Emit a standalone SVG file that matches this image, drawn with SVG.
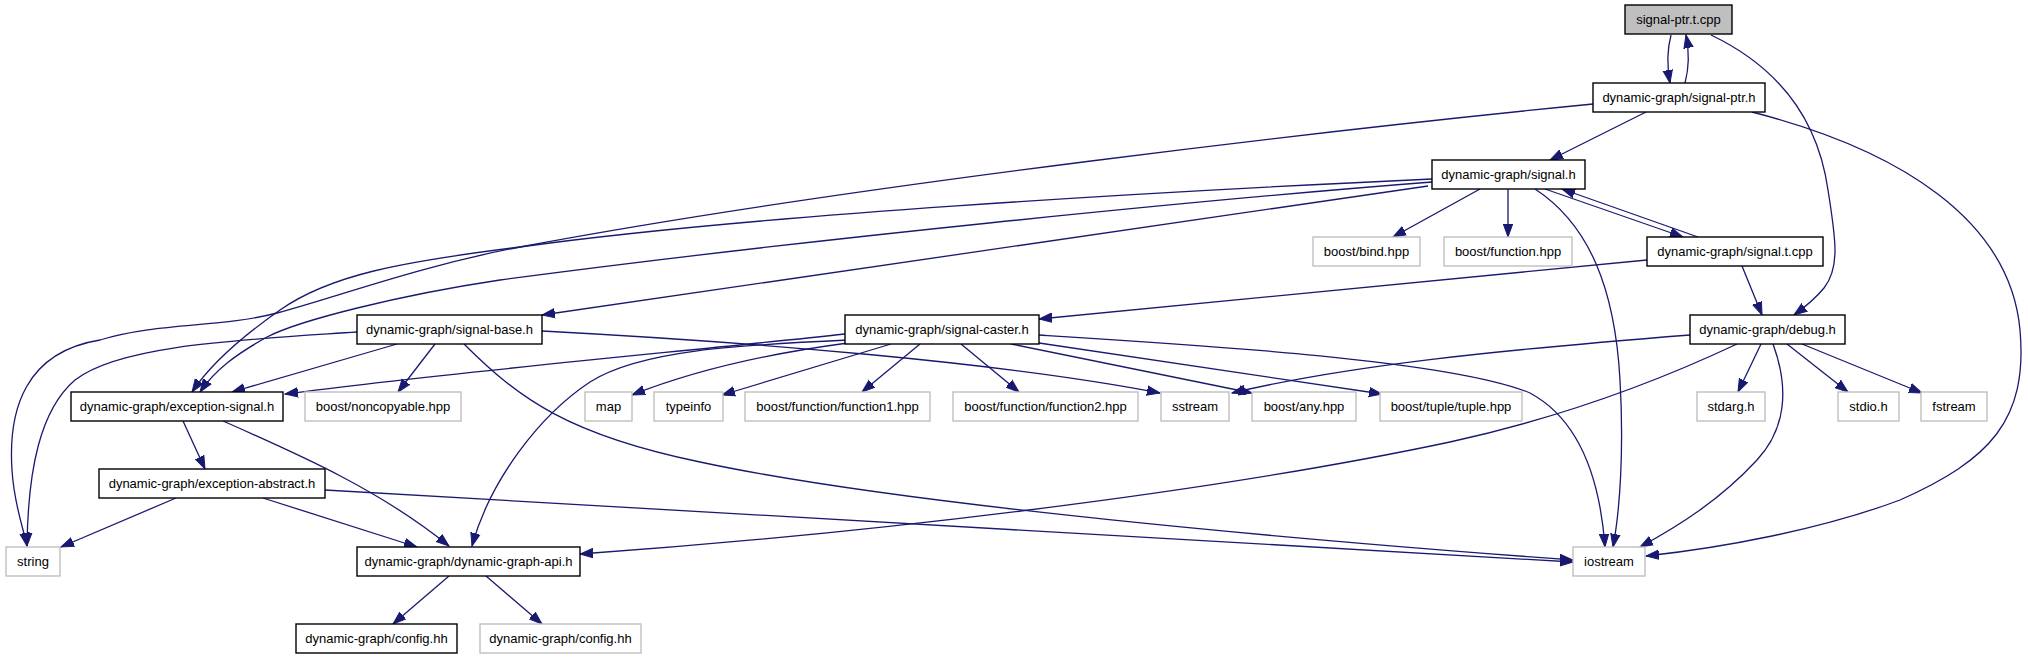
<svg xmlns="http://www.w3.org/2000/svg" width="2028" height="659" viewBox="0 0 2028 659">
<style>
.n rect{fill:#fff;stroke:#000;stroke-width:1.4}
.x rect{fill:#fff;stroke:#bfbfbf;stroke-width:1.4}
.r rect{fill:#bfbfbf;stroke:#000;stroke-width:1.4}
text{font-family:"Liberation Sans",Arial,sans-serif;font-size:13px;fill:#000;text-anchor:middle}
#edges path{fill:none;stroke:#191970;stroke-width:1.3;marker-end:url(#a)}
</style>
<defs>
<marker id="a" markerUnits="userSpaceOnUse" markerWidth="14" markerHeight="11" refX="13" refY="5.5" orient="auto">
<path d="M0,0.8 L13,5.5 L0,10.2 z" fill="#191970" stroke="#191970" stroke-width="1"/>
</marker>
</defs>
<rect width="2028" height="659" fill="#fff"/>
<g id="edges">
<path d="M1671,35 C1667,50 1667,66 1670,83"/>
<path d="M1685,83 C1689,68 1689,50 1686,35"/>
<path d="M1711,35 C1780,68 1818,120 1828,190 C1836,240 1840,268 1824,288 C1815,299 1805,307 1794,315"/>
<path d="M1646,112 L1550,160"/>
<path d="M1593,104 C1350,128 850,185 520,247 C420,266 340,296 277,313 C220,328 160,322 100,340 C25,352 8,410 12,470 C14,505 24,530 27,546"/>
<path d="M1752,112 C1900,150 2010,220 2020,330 C2028,420 1990,460 1900,500 C1820,530 1720,548 1646,556"/>
<path d="M1480,189 L1393,237"/>
<path d="M1508,189 L1508,237"/>
<path d="M1545,189 L1683,237"/>
<path d="M1698,237 L1562,189"/>
<path d="M1535,189 C1590,225 1615,290 1620,380 C1624,450 1620,510 1613,547"/>
<path d="M1432,179 C1150,192 750,215 520,247 C400,262 330,275 280,310 C240,338 210,365 192,392"/>
<path d="M1432,182 C1200,200 800,240 500,280 C400,295 300,320 267,337 C235,355 215,370 200,392"/>
<path d="M1428,186 L542,315"/>
<path d="M1647,260 L1039,319"/>
<path d="M1742,266 L1762,315"/>
<path d="M357,332 C240,340 120,345 75,380 C40,410 28,470 27,546"/>
<path d="M397,344 L232,392"/>
<path d="M435,344 L398,392"/>
<path d="M542,331 C750,342 1000,362 1160,393"/>
<path d="M464,344 C520,400 570,435 700,462 C900,505 1300,540 1573,560"/>
<path d="M845,334 C700,350 450,372 285,394"/>
<path d="M848,343 C780,352 700,368 632,395"/>
<path d="M891,344 L722,395"/>
<path d="M920,344 L862,392"/>
<path d="M961,344 L1019,392"/>
<path d="M1011,344 L1252,393"/>
<path d="M1039,343 L1382,394"/>
<path d="M1039,335 C1200,345 1450,360 1530,393 C1580,420 1600,480 1605,547"/>
<path d="M848,340 C740,345 640,350 590,382 C540,415 490,480 472,546"/>
<path d="M1690,335 C1500,350 1350,365 1232,393"/>
<path d="M1737,344 C1650,385 1550,420 1450,442 C1200,495 850,535 580,554"/>
<path d="M1761,344 L1738,392"/>
<path d="M1773,344 C1790,390 1785,430 1757,460 C1720,500 1680,525 1640,547"/>
<path d="M1787,344 L1848,392"/>
<path d="M1802,344 L1922,393"/>
<path d="M183,421 L205,469"/>
<path d="M223,421 C300,455 380,490 449,546"/>
<path d="M176,498 L61,547"/>
<path d="M263,498 L417,547"/>
<path d="M325,490 L1573,562"/>
<path d="M449,576 L393,624"/>
<path d="M486,576 L542,624"/>
</g>
<g id="n0" class="r"><rect x="1625" y="5" width="107" height="29"/><text x="1678.5" y="24">signal-ptr.t.cpp</text></g>
<g id="n1" class="n"><rect x="1593" y="83" width="172" height="29"/><text x="1679" y="102">dynamic-graph/signal-ptr.h</text></g>
<g id="n2" class="n"><rect x="1432" y="160" width="153" height="29"/><text x="1508.5" y="179">dynamic-graph/signal.h</text></g>
<g id="n3" class="x"><rect x="1313" y="237" width="107" height="29"/><text x="1366.5" y="256">boost/bind.hpp</text></g>
<g id="n4" class="x"><rect x="1444" y="237" width="128" height="29"/><text x="1508" y="256">boost/function.hpp</text></g>
<g id="n5" class="n"><rect x="1647" y="237" width="176" height="29"/><text x="1735" y="256">dynamic-graph/signal.t.cpp</text></g>
<g id="n6" class="n"><rect x="1690" y="315" width="155" height="29"/><text x="1767.5" y="334">dynamic-graph/debug.h</text></g>
<g id="n7" class="n"><rect x="357" y="315" width="185" height="29"/><text x="449.5" y="334">dynamic-graph/signal-base.h</text></g>
<g id="n8" class="n"><rect x="845" y="315" width="194" height="29"/><text x="942" y="334">dynamic-graph/signal-caster.h</text></g>
<g id="n9" class="n"><rect x="71" y="392" width="212" height="29"/><text x="177" y="411">dynamic-graph/exception-signal.h</text></g>
<g id="n10" class="x"><rect x="305" y="392" width="156" height="29"/><text x="383" y="411">boost/noncopyable.hpp</text></g>
<g id="n11" class="x"><rect x="585" y="392" width="47" height="29"/><text x="608.5" y="411">map</text></g>
<g id="n12" class="x"><rect x="654" y="392" width="69" height="29"/><text x="688.5" y="411">typeinfo</text></g>
<g id="n13" class="x"><rect x="745" y="392" width="185" height="29"/><text x="837.5" y="411">boost/function/function1.hpp</text></g>
<g id="n14" class="x"><rect x="953" y="392" width="185" height="29"/><text x="1045.5" y="411">boost/function/function2.hpp</text></g>
<g id="n15" class="x"><rect x="1161" y="392" width="68" height="29"/><text x="1195" y="411">sstream</text></g>
<g id="n16" class="x"><rect x="1252" y="392" width="104" height="29"/><text x="1304" y="411">boost/any.hpp</text></g>
<g id="n17" class="x"><rect x="1380" y="392" width="142" height="29"/><text x="1451" y="411">boost/tuple/tuple.hpp</text></g>
<g id="n18" class="x"><rect x="1697" y="392" width="68" height="29"/><text x="1731" y="411">stdarg.h</text></g>
<g id="n19" class="x"><rect x="1838" y="392" width="61" height="29"/><text x="1868.5" y="411">stdio.h</text></g>
<g id="n20" class="x"><rect x="1921" y="392" width="66" height="29"/><text x="1954" y="411">fstream</text></g>
<g id="n21" class="n"><rect x="99" y="469" width="226" height="29"/><text x="212" y="488">dynamic-graph/exception-abstract.h</text></g>
<g id="n22" class="x"><rect x="6" y="547" width="54" height="29"/><text x="33" y="566">string</text></g>
<g id="n23" class="n"><rect x="357" y="547" width="223" height="29"/><text x="468.5" y="566">dynamic-graph/dynamic-graph-api.h</text></g>
<g id="n24" class="x"><rect x="1573" y="547" width="72" height="29"/><text x="1609" y="566">iostream</text></g>
<g id="n25" class="n"><rect x="296" y="624" width="161" height="29"/><text x="376.5" y="643">dynamic-graph/config.hh</text></g>
<g id="n26" class="x"><rect x="480" y="624" width="161" height="29"/><text x="560.5" y="643">dynamic-graph/config.hh</text></g>
</svg>
